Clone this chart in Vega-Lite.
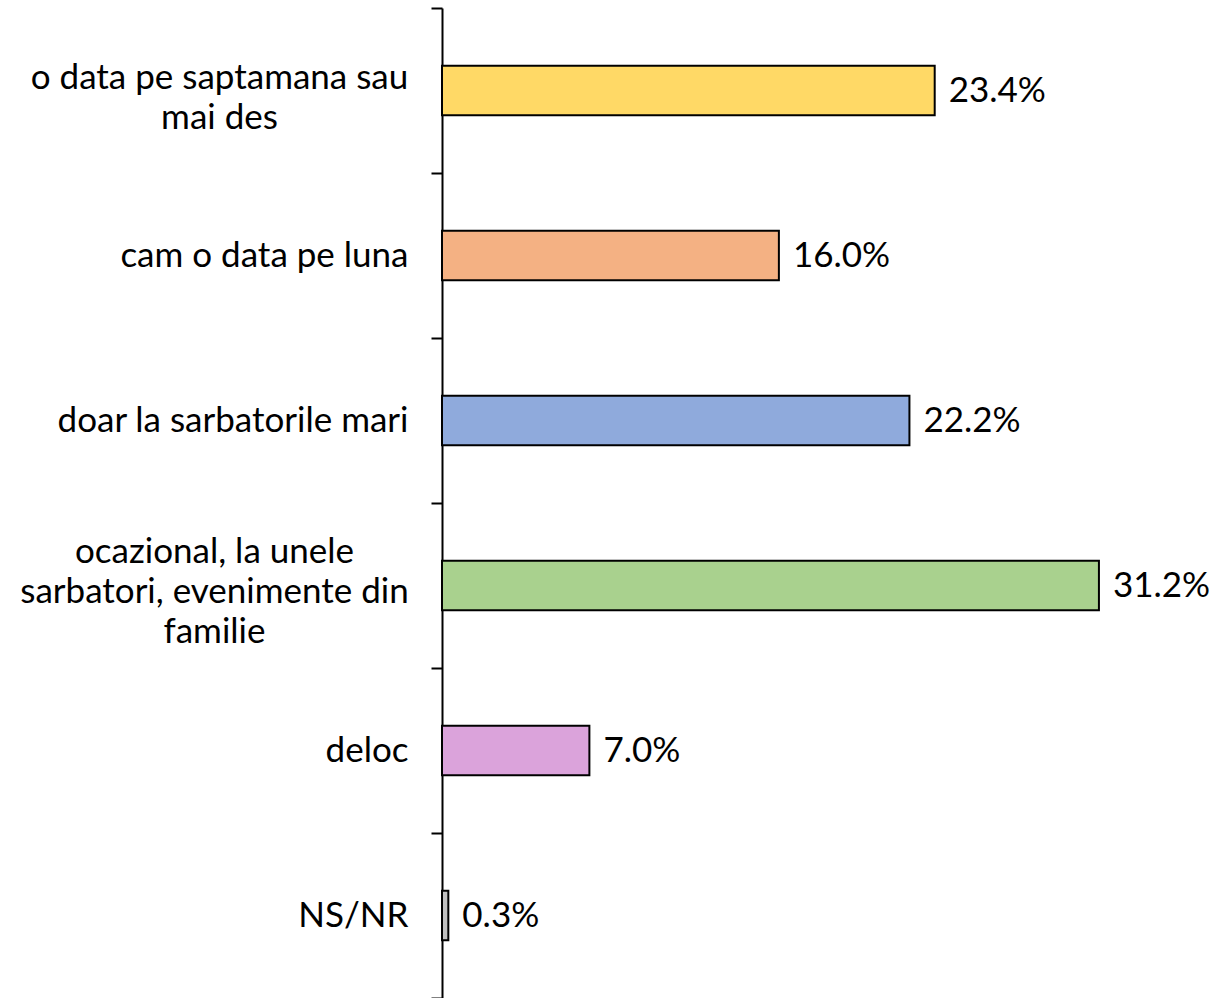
{
  "$schema": "https://vega.github.io/schema/vega-lite/v6.json",
  "width": 758,
  "height": 990,
  "autosize": {"type": "none"},
  "padding": {"left": 442, "top": 8, "right": 15, "bottom": 0},
  "background": "white",
  "config": {"view": {"stroke": null}, "font": "Lato"},
  "data": {
    "values": [
      {"cat": "o data pe saptamana sau mai des", "share": 0.234},
      {"cat": "cam o data pe luna", "share": 0.160},
      {"cat": "doar la sarbatorile mari", "share": 0.222},
      {"cat": "ocazional, la unele sarbatori, evenimente din familie", "share": 0.312},
      {"cat": "deloc", "share": 0.070},
      {"cat": "NS/NR", "share": 0.003}
    ]
  },
  "encoding": {
    "y": {
      "field": "cat",
      "type": "nominal",
      "sort": null,
      "title": null,
      "scale": {"paddingInner": 0, "paddingOuter": 0},
      "axis": {
        "domainColor": "black",
        "domainWidth": 2,
        "tickColor": "black",
        "tickWidth": 2,
        "tickSize": 11,
        "tickBand": "extent",
        "grid": false,
        "labelFont": "Lato",
        "labelFontSize": 35,
        "labelColor": "black",
        "labelLineHeight": 40,
        "labelLimit": 1000,
        "labelOverlap": false,
        "labelBaseline": "middle",
        "labelAlign": {
          "condition": {"test": "isValid(datum) && isString(datum.value) && (indexof(datum.value, 'mai des') >= 0 || indexof(datum.value, 'ocazional') >= 0)", "value": "center"},
          "value": "right"
        },
        "labelOffset": {
          "condition": [
            {"test": "isValid(datum) && isString(datum.value) && indexof(datum.value, 'mai des') >= 0", "value": -13},
            {"test": "isValid(datum) && isString(datum.value) && indexof(datum.value, 'ocazional') >= 0", "value": -34}
          ],
          "value": 0
        },
        "labelPadding": {
          "condition": [
            {"test": "isValid(datum) && isString(datum.value) && indexof(datum.value, 'mai des') >= 0", "value": 212},
            {"test": "isValid(datum) && isString(datum.value) && indexof(datum.value, 'ocazional') >= 0", "value": 217}
          ],
          "value": 23
        },
        "labelExpr": "datum.label == 'o data pe saptamana sau mai des' ? ['o data pe saptamana sau', 'mai des'] : datum.label == 'ocazional, la unele sarbatori, evenimente din familie' ? ['ocazional, la unele', 'sarbatori, evenimente din', 'familie'] : datum.label"
      }
    },
    "x": {"field": "share", "type": "quantitative", "scale": {"domain": [0, 0.36], "nice": false}, "axis": null}
  },
  "layer": [
    {
      "mark": {"type": "bar", "height": {"band": 0.3}, "stroke": "black", "strokeWidth": 2},
      "encoding": {
        "color": {
          "field": "cat",
          "type": "nominal",
          "legend": null,
          "scale": {
            "domain": [
              "o data pe saptamana sau mai des",
              "cam o data pe luna",
              "doar la sarbatorile mari",
              "ocazional, la unele sarbatori, evenimente din familie",
              "deloc",
              "NS/NR"
            ],
            "range": ["#FFD966", "#F4B183", "#8FAADC", "#A9D18E", "#DBA3DB", "#BFBFBF"]
          }
        }
      }
    },
    {
      "mark": {"type": "text", "align": "left", "baseline": "middle", "dx": 14, "font": "Lato", "fontSize": 35, "color": "black"},
      "encoding": {
        "text": {"field": "share", "type": "quantitative", "format": ".1%"}
      }
    }
  ]
}
